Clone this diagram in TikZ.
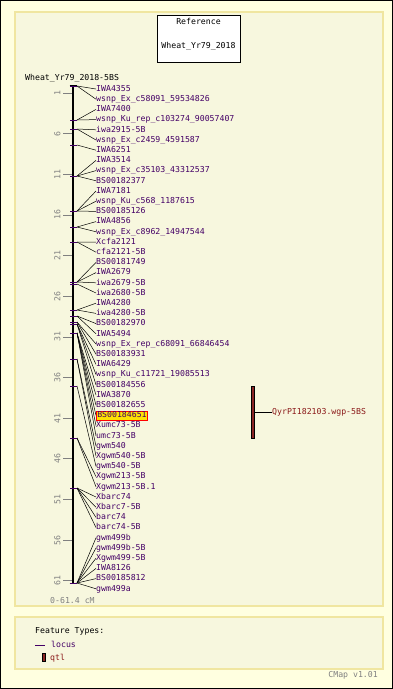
\documentclass[tikz,border=0pt]{standalone}
\usepackage{fontspec}
\newfontfamily\pxfont{DejaVu Sans Mono}
\definecolor{outerbg}{HTML}{FFFFE0}
\definecolor{panelbg}{HTML}{F7F7DE}
\definecolor{panelline}{HTML}{F0E6A0}
\definecolor{locuscol}{HTML}{440066}
\definecolor{qtlcol}{HTML}{8B2525}
\definecolor{qtltext}{HTML}{8B1A1A}
\definecolor{scalegray}{HTML}{808080}
\begin{document}
\begin{tikzpicture}[x=1pt,y=-1pt,
  txt/.style={inner sep=0pt, font=\pxfont\fontsize{8.2}{9}\selectfont, text height=5.8pt, text depth=1.2pt},
  lab/.style={txt, anchor=west, text=locuscol},
  hilab/.style={lab, fill=yellow!85!orange, draw=red, line width=0.6pt, inner xsep=1pt, inner ysep=1pt},
  conn/.style={black, line width=0.5pt},
  ltick/.style={locuscol, line width=0.8pt},
  stick/.style={scalegray, line width=0.8pt},
  slab/.style={txt, rotate=90, text=scalegray},
  panel/.style={fill=panelbg, draw=panelline, line width=1.2pt}]
\useasboundingbox (0,0) rectangle (393,689);
\fill[outerbg] (0,0) rectangle (393,689);
\draw[black, line width=1pt] (0.5,0.5) rectangle (392.5,688.5);
% panels
\draw[panel] (15,12) rectangle (383,606);
\draw[panel] (15,617) rectangle (383,669);
% reference box
\node[draw=black, fill=white, line width=0.6pt, minimum width=83pt, minimum height=47pt, inner sep=0pt] (refbox) at (198.5,38.5) {};
\node[txt, text=black] (reft1) at (198.5,22) {Reference};
\node[txt, text=black] (reft2) at (198.5,46) {Wheat\_Yr79\_2018};
% title
\node[txt, anchor=west, text=black] (title) at (25,78) {Wheat\_Yr79\_2018-5BS};
% scale ticks
\foreach \c in {1,6,...,61} {
  \draw[stick] (63,{84.9+8.13*\c}) -- (72,{84.9+8.13*\c});
  \node[slab] (s\c) at (58,{84.9+8.13*\c}) {\c};
}
% axis
\draw[black, line width=2.5pt] (73.2,85) -- (73.2,584);
\draw[black, line width=1.2pt] (69.5,85.6) -- (77,85.6);
\draw[black, line width=1.2pt] (69.5,583.4) -- (77,583.4);
% labels
\foreach \t [count=\i] in {IWA4355, wsnp\_Ex\_c58091\_59534826, IWA7400, wsnp\_Ku\_rep\_c103274\_90057407,
  iwa2915-5B, wsnp\_Ex\_c2459\_4591587, IWA6251, IWA3514, wsnp\_Ex\_c35103\_43312537, BS00182377,
  IWA7181, wsnp\_Ku\_c568\_1187615, BS00185126, IWA4856, wsnp\_Ex\_c8962\_14947544, Xcfa2121,
  cfa2121-5B, BS00181749, IWA2679, iwa2679-5B, iwa2680-5B, IWA4280, iwa4280-5B, BS00182970,
  IWA5494, wsnp\_Ex\_rep\_c68091\_66846454, BS00183931, IWA6429, wsnp\_Ku\_c11721\_19085513,
  BS00184556, IWA3870, BS00182655, BS00184651, Xumc73-5B, umc73-5B, gwm540, Xgwm540-5B,
  gwm540-5B, Xgwm213-5B, Xgwm213-5B.1, Xbarc74, Xbarc7-5B, barc74, barc74-5B, gwm499b,
  gwm499b-5B, Xgwm499-5B, IWA8126, BS00185812, gwm499a} {
  \ifnum\i=33
    \node[hilab] (n\i) at (96,{89+(\i-1)*10.2}) {\t};
  \else
    \node[lab] (n\i) at (96,{89+(\i-1)*10.2}) {\t};
  \fi
}
% loci and connectors
\foreach \i/\y in {1/86,2/86,3/120,4/120,5/129,6/129,7/145,8/176,9/176,10/176,
  11/211,12/211,13/211,14/227,15/227,16/242,17/242,18/282,19/282,20/282,21/284,
  22/310,23/310,24/316,25/316,26/322,27/322,28/324,29/324,30/324,
  31/333,32/333,33/333,34/333,35/333,36/359,37/359,38/386,39/438,40/438,
  41/488,42/488,43/488,44/488,45/583,46/583,47/583,48/583,49/583,50/583} {
  \draw[ltick] (70,\y) -- (77,\y);
  \coordinate (p\i) at (77,\y);
  \draw[conn] (p\i) -- (n\i.west);
}
% qtl
\node[draw=black, fill=qtlcol, line width=0.4pt, minimum width=3pt, minimum height=52pt, inner sep=0pt] (qtl) at (253,412) {};
\node[txt, anchor=west, text=qtltext] (qlab) at (272,412) {QyrPI182103.wgp-5BS};
\draw[conn] (qtl.east) -- (qlab.west);
% scale range
\node[txt, anchor=west, text=scalegray] (range) at (50,601) {0-61.4 cM};
% legend
\node[txt, anchor=west, text=black] (ft) at (35,631) {Feature Types:};
\coordinate (lg1) at (35,645);
\coordinate (lg2) at (45,645);
\draw[locuscol, line width=0.8pt] (lg1) -- (lg2);
\node[txt, anchor=west, text=locuscol] (lglocus) at (51,645) {locus};
\node[draw=black, fill=qtlcol, line width=0.4pt, minimum width=3pt, minimum height=8pt, inner sep=0pt] (lgqtl) at (44,657.5) {};
\node[txt, anchor=west, text=qtltext] (lgqtltxt) at (50,658) {qtl};
% version
\node[txt, anchor=east, text=scalegray] (ver) at (378,675) {CMap v1.01};
\end{tikzpicture}
\end{document}
